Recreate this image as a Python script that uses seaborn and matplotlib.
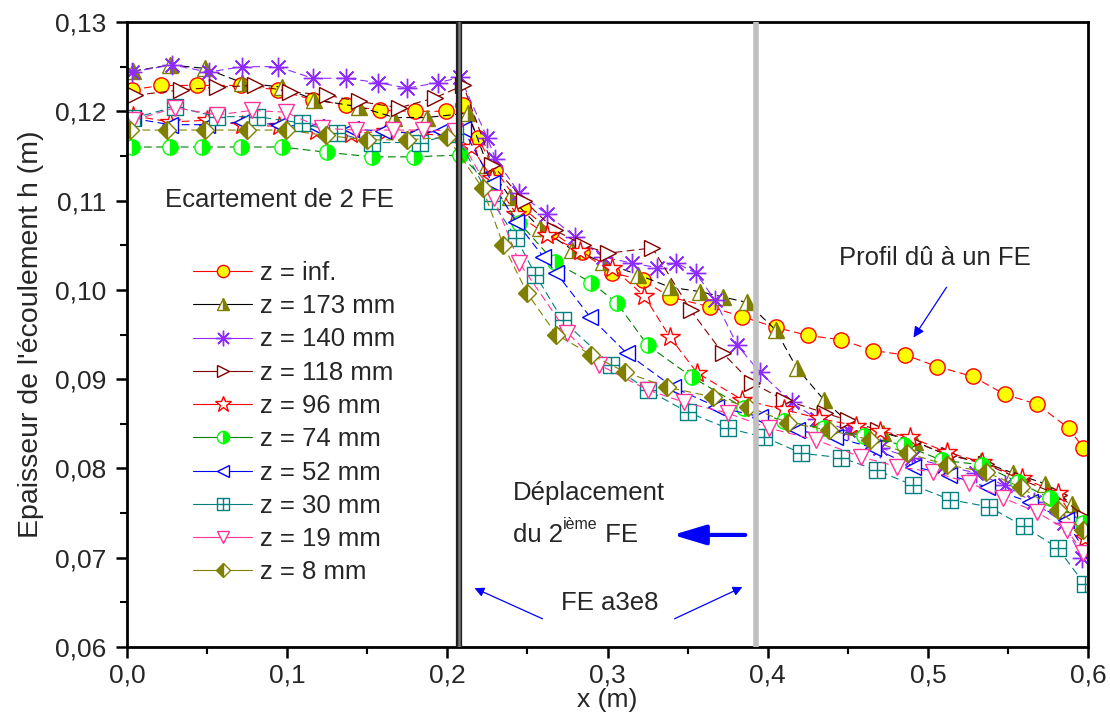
import matplotlib
matplotlib.use('Agg')
import matplotlib.pyplot as plt
from matplotlib.lines import Line2D
from matplotlib.path import Path
from matplotlib.ticker import FuncFormatter, MultipleLocator
import seaborn as sns

# ---- data ----
labels = ['z = inf.', 'z = 173 mm', 'z = 140 mm', 'z = 118 mm', 'z = 96 mm',
          'z = 74 mm', 'z = 52 mm', 'z = 30 mm', 'z = 19 mm', 'z = 8 mm']

x_inf = [0.003, 0.021, 0.044, 0.071, 0.094, 0.116, 0.137, 0.158, 0.180, 0.199,
         0.210, 0.219, 0.230, 0.247, 0.265, 0.284, 0.303, 0.322, 0.339, 0.364,
         0.384, 0.405, 0.425, 0.446, 0.466, 0.486, 0.506, 0.528, 0.548, 0.568,
         0.588, 0.597]
h_inf = [0.1224, 0.1229, 0.1229, 0.1229, 0.1224, 0.1213, 0.1207, 0.1201, 0.1200, 0.1200,
         0.1207, 0.1170, 0.1134, 0.1092, 0.1065, 0.1042, 0.1019, 0.1011, 0.0992, 0.0981,
         0.0970, 0.0958, 0.0949, 0.0944, 0.0932, 0.0927, 0.0914, 0.0903, 0.0883, 0.0872,
         0.0845, 0.0823]

x_173 = [0.004, 0.027, 0.049, 0.072, 0.097, 0.117, 0.145, 0.167, 0.187, 0.213,
         0.225, 0.239, 0.258, 0.278, 0.297, 0.319, 0.339, 0.358, 0.372, 0.387,
         0.405, 0.418, 0.435, 0.453, 0.472, 0.492, 0.512, 0.533, 0.553, 0.573,
         0.590, 0.598]
h_173 = [0.1245, 0.1252, 0.1248, 0.1232, 0.1227, 0.1213, 0.1205, 0.1193, 0.1193, 0.1198,
         0.1140, 0.1104, 0.1069, 0.1045, 0.1031, 0.1017, 0.1003, 0.0998, 0.0992, 0.0986,
         0.0955, 0.0913, 0.0877, 0.0847, 0.0840, 0.0830, 0.0815, 0.0808, 0.0795, 0.0783,
         0.0760, 0.0735]

x_140 = [0.003, 0.028, 0.051, 0.072, 0.094, 0.116, 0.137, 0.157, 0.175, 0.194,
         0.208, 0.225, 0.230, 0.245, 0.262, 0.280, 0.297, 0.315, 0.331, 0.343,
         0.355, 0.367, 0.381, 0.395, 0.415, 0.431, 0.450, 0.470, 0.490, 0.510,
         0.530, 0.548, 0.566, 0.585, 0.596]
h_140 = [0.1244, 0.1252, 0.1244, 0.1250, 0.1250, 0.1237, 0.1237, 0.1232, 0.1226, 0.1232,
         0.1238, 0.1170, 0.1147, 0.1108, 0.1085, 0.1059, 0.1037, 0.1030, 0.1025, 0.1030,
         0.1019, 0.0989, 0.0938, 0.0908, 0.0874, 0.0855, 0.0843, 0.0823, 0.0812, 0.0803,
         0.0795, 0.0781, 0.0762, 0.0739, 0.0700]

x_118 = [0.005, 0.034, 0.056, 0.080, 0.102, 0.125, 0.145, 0.170, 0.192, 0.210,
         0.228, 0.248, 0.267, 0.285, 0.300, 0.328, 0.352, 0.372, 0.390, 0.410,
         0.436, 0.450, 0.469, 0.491, 0.513, 0.536, 0.559, 0.582, 0.598]
h_118 = [0.1218, 0.1224, 0.1227, 0.1229, 0.1222, 0.1218, 0.1211, 0.1204, 0.1215, 0.1229,
         0.1140, 0.1100, 0.1067, 0.1050, 0.1041, 0.1047, 0.0977, 0.0929, 0.0896, 0.0877,
         0.0862, 0.0854, 0.0843, 0.0830, 0.0815, 0.0805, 0.0787, 0.0770, 0.0745]

x_96 = [0.004, 0.027, 0.050, 0.072, 0.095, 0.118, 0.140, 0.162, 0.183, 0.203,
        0.215, 0.228, 0.243, 0.262, 0.283, 0.303, 0.323, 0.339, 0.356, 0.384,
        0.410, 0.432, 0.455, 0.470, 0.489, 0.512, 0.534, 0.559, 0.581, 0.598]
h_96 = [0.1195, 0.1188, 0.1190, 0.1185, 0.1183, 0.1178, 0.1175, 0.1178, 0.1175, 0.1172,
        0.1160, 0.1125, 0.1085, 0.1062, 0.1043, 0.1025, 0.0993, 0.0947, 0.0907, 0.0877,
        0.0866, 0.0856, 0.0848, 0.0842, 0.0835, 0.0818, 0.0807, 0.0789, 0.0773, 0.0722]

x_74 = [0.003, 0.027, 0.047, 0.071, 0.097, 0.125, 0.153, 0.179, 0.208,
        0.228, 0.245, 0.267, 0.290, 0.306, 0.325, 0.353, 0.385,
        0.410, 0.435, 0.460, 0.485, 0.509, 0.534, 0.556, 0.576, 0.597]
h_74 = [0.1160, 0.1160, 0.1160, 0.1160, 0.1160, 0.1154, 0.1149, 0.1149, 0.1151,
        0.1115, 0.1075, 0.1031, 0.1008, 0.0985, 0.0938, 0.0902, 0.0868,
        0.0853, 0.0845, 0.0836, 0.0826, 0.0809, 0.0804, 0.0785, 0.0767, 0.0739]

x_52 = [0.004, 0.027, 0.050, 0.072, 0.095, 0.118, 0.140, 0.160, 0.180, 0.196,
        0.210, 0.228, 0.243, 0.260, 0.268, 0.289, 0.312, 0.341, 0.368, 0.395,
        0.418, 0.442, 0.466, 0.491, 0.513, 0.537, 0.564, 0.586, 0.599]
h_52 = [0.1192, 0.1185, 0.1185, 0.1188, 0.1185, 0.1182, 0.1180, 0.1178, 0.1175, 0.1178,
        0.1180, 0.1120, 0.1076, 0.1037, 0.1019, 0.0970, 0.0929, 0.0891, 0.0869, 0.0858,
        0.0843, 0.0835, 0.0823, 0.0802, 0.0793, 0.0779, 0.0762, 0.0742, 0.0705]

x_30 = [0.003, 0.030, 0.056, 0.081, 0.109, 0.131, 0.153, 0.183, 0.205,
        0.228, 0.243, 0.255, 0.272, 0.302, 0.325, 0.350, 0.375, 0.398,
        0.421, 0.446, 0.468, 0.491, 0.514, 0.538, 0.560, 0.581, 0.598]
h_30 = [0.1192, 0.1205, 0.1194, 0.1194, 0.1187, 0.1176, 0.1165, 0.1165, 0.1175,
        0.1099, 0.1058, 0.1017, 0.0966, 0.0916, 0.0888, 0.0863, 0.0845, 0.0835,
        0.0817, 0.0812, 0.0798, 0.0781, 0.0765, 0.0757, 0.0735, 0.0711, 0.0670]

x_19 = [0.004, 0.030, 0.056, 0.078, 0.099, 0.122, 0.143, 0.166, 0.185, 0.205,
        0.229, 0.245, 0.275, 0.295, 0.325, 0.348, 0.375, 0.401,
        0.430, 0.458, 0.481, 0.503, 0.526, 0.547, 0.568, 0.587, 0.597]
h_19 = [0.1190, 0.1204, 0.1196, 0.1201, 0.1199, 0.1181, 0.1179, 0.1179, 0.1179, 0.1178,
        0.1103, 0.1030, 0.0952, 0.0916, 0.0888, 0.0874, 0.0862, 0.0845,
        0.0832, 0.0813, 0.0802, 0.0796, 0.0784, 0.0767, 0.0751, 0.0731, 0.0705]

x_8 = [0.002, 0.025, 0.049, 0.075, 0.099, 0.124, 0.150, 0.175, 0.200,
       0.222, 0.235, 0.250, 0.268, 0.290, 0.311, 0.337, 0.366, 0.388,
       0.413, 0.438, 0.464, 0.487, 0.512, 0.536, 0.558, 0.581, 0.597]
h_8 = [0.1179, 0.1179, 0.1179, 0.1179, 0.1179, 0.1173, 0.1168, 0.1168, 0.1171,
       0.1114, 0.1050, 0.0996, 0.0950, 0.0927, 0.0908, 0.0891, 0.0880, 0.0869,
       0.0851, 0.0843, 0.0832, 0.0817, 0.0804, 0.0796, 0.0779, 0.0753, 0.0731]

xs = [x_inf, x_173, x_140, x_118, x_96, x_74, x_52, x_30, x_19, x_8]
hs = [h_inf, h_173, h_140, h_118, h_96, h_74, h_52, h_30, h_19, h_8]

fe1_x = 0.2072
fe2_x = 0.3925

# square with a plus inside (like the Origin marker)
boxplus = Path([(-1, -1), (1, -1), (1, 1), (-1, 1), (-1, -1), (0, -1), (0, 1), (-1, 0), (1, 0)],
               [Path.MOVETO, Path.LINETO, Path.LINETO, Path.LINETO, Path.CLOSEPOLY,
                Path.MOVETO, Path.LINETO, Path.MOVETO, Path.LINETO])

dash = (0, (7, 4))
styles = [
    dict(color='red', marker='o', markersize=11, mfc='#ffff00', mec='red', mew=1.0),
    dict(color='black', marker='^', markersize=11, fillstyle='right', mfc='#808000',
         markerfacecoloralt='white', mec='#808000', mew=1.0),
    dict(color='#8f2bff', marker=(8, 2, 0), markersize=14, mec='#8f2bff', mew=1.0),
    dict(color='#800000', marker='>', markersize=11, mfc='white', mec='#800000', mew=1.0),
    dict(color='red', marker='*', markersize=15, mfc='white', mec='red', mew=1.0),
    dict(color='#008000', marker='o', markersize=11, fillstyle='right', mfc='#00ff00',
         markerfacecoloralt='white', mec='#00ff00', mew=1.0),
    dict(color='blue', marker='<', markersize=11, mfc='white', mec='blue', mew=1.0),
    dict(color='#008080', marker=boxplus, markersize=11, mfc='white', mec='#008080', mew=1.0),
    dict(color='#ff3399', marker='v', markersize=11, mfc='white', mec='#ff3399', mew=1.0),
    dict(color='#808000', marker='D', markersize=9, fillstyle='left', mfc='#808000',
         markerfacecoloralt='white', mec='#808000', mew=1.0),
]

sns.set_style('ticks')
plt.rcParams['font.family'] = ['Liberation Sans', 'DejaVu Sans']

fig, ax = plt.subplots(figsize=(11.1, 7.22), dpi=100)
fig.subplots_adjust(left=0.1144, right=0.9802, bottom=0.1039, top=0.9695)

for x, h, st in zip(xs, hs, styles):
    sns.lineplot(x=x, y=h, ax=ax, errorbar=None, linewidth=0.8, linestyle=dash, **st)

# the two FE positions
ax.axvline(fe1_x, color='#202020', lw=4.5, zorder=5)
ax.axvline(fe1_x, color='#777777', lw=1.8, zorder=6)
ax.axvline(fe2_x, color='#c0c0c0', lw=4, zorder=5)

ax.set_xlim(0, 0.6)
ax.set_ylim(0.06, 0.13)
ax.xaxis.set_major_locator(MultipleLocator(0.1))
ax.xaxis.set_minor_locator(MultipleLocator(0.05))
ax.yaxis.set_major_locator(MultipleLocator(0.01))
ax.yaxis.set_minor_locator(MultipleLocator(0.005))
ax.xaxis.set_major_formatter(FuncFormatter(lambda v, _: f"{v:.1f}".replace('.', ',')))
ax.yaxis.set_major_formatter(FuncFormatter(lambda v, _: f"{v:.2f}".replace('.', ',')))
ax.tick_params(which='major', direction='out', length=8, width=1.8, labelsize=19,
               color='black')
ax.tick_params(axis='y', which='major', pad=7)
ax.tick_params(axis='x', which='major', pad=4)
ax.tick_params(which='minor', direction='out', length=5, width=1.5, color='black')
for sp in ax.spines.values():
    sp.set_visible(True)
    sp.set_linewidth(2)
    sp.set_color('black')

ax.set_xlabel('x (m)', fontsize=19, labelpad=0)
ax.set_ylabel("Epaisseur de l'écoulement h (m)", fontsize=20.5, labelpad=8)

# legend with solid short lines as in the original
handles = [Line2D([], [], linestyle='-', linewidth=0.8, **st) for st in styles]
ax.legend(handles, labels, loc='upper left', bbox_to_anchor=(193 / 1110, 1 - 261 / 722),
          bbox_transform=fig.transFigure, frameon=False, fontsize=18.5, handlelength=2.3,
          handletextpad=0.32, labelspacing=0.36, borderpad=0, borderaxespad=0,
          markerscale=0.8)

ax.text(0.0237, 0.1101, 'Ecartement de 2 FE', fontsize=18.5, va='center', ha='left')

# annotations
ax.text(0.5045, 0.1036, 'Profil dû à un FE', fontsize=18.5, va='center', ha='center')
ax.annotate('', xy=(0.4901, 0.0944), xytext=(0.5126, 0.10055),
            arrowprops=dict(arrowstyle='-|>', color='blue', lw=0.9, mutation_scale=16))

ax.text(0.2410, 0.07725, 'Déplacement', fontsize=18.5, va='center', ha='left')
t1 = ax.text(0.2410, 0.07255, 'du 2', fontsize=18.5, va='center', ha='left')
t2 = ax.annotate('ième', xy=(1, 0.62), xycoords=t1, fontsize=11.5, va='bottom', ha='left')
ax.annotate(' FE', xy=(1, 0.5), xycoords=(t2, t1), fontsize=18.5, va='center', ha='left')
ax.annotate('', xy=(0.3390, 0.07255), xytext=(0.3877, 0.07255),
            arrowprops=dict(arrowstyle='-|>,head_length=1.0,head_width=0.3', color='blue',
                            lw=3, mutation_scale=20))

ax.text(0.3016, 0.06493, 'FE a3e8', fontsize=18.5, va='center', ha='center')
ax.annotate('', xy=(0.2154, 0.06672), xytext=(0.2610, 0.06303),
            arrowprops=dict(arrowstyle='-|>', color='blue', lw=0.9, mutation_scale=14))
ax.annotate('', xy=(0.3858, 0.06684), xytext=(0.3403, 0.06303),
            arrowprops=dict(arrowstyle='-|>', color='blue', lw=0.9, mutation_scale=14))

fig.savefig('out.png', dpi=100)
